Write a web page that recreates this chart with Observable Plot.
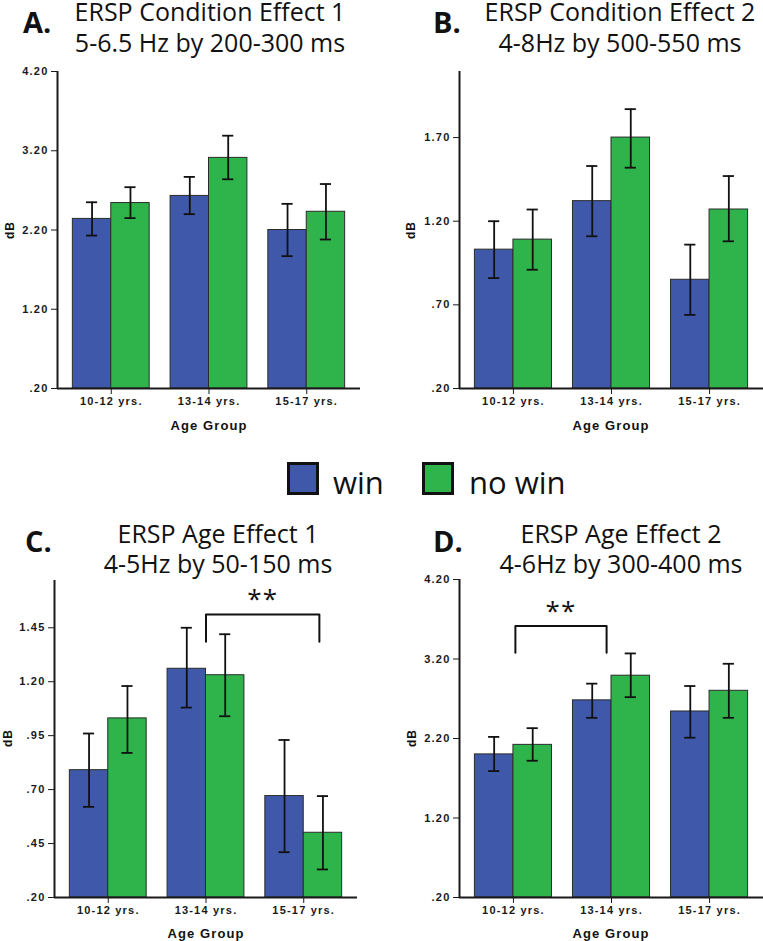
<!DOCTYPE html>
<html>
<head>
<meta charset="utf-8">
<script src="https://cdn.jsdelivr.net/npm/d3@7"></script>
<script src="https://cdn.jsdelivr.net/npm/@observablehq/plot@0.6"></script>
<style>
  html, body { margin: 0; padding: 0; background: #fff; }
  #page { position: relative; width: 763px; height: 941px; overflow: hidden; background: #fff; }
  .abs { position: absolute; }
  .title { font-family: "Open Sans", sans-serif; font-size: 25px; line-height: 22px; color: #111; white-space: nowrap; transform: translateX(-50%); }
  .letter { font-family: "Open Sans", sans-serif; font-weight: bold; font-size: 29px; line-height: 29px; color: #111; }
  .ylab { font-family: "Liberation Sans", Arial, sans-serif; font-weight: bold; font-size: 12px; letter-spacing: 1px; color: #111; transform: translate(-50%, -50%) rotate(-90deg); white-space: nowrap; }
  .xlab { font-family: "Liberation Sans", Arial, sans-serif; font-weight: bold; font-size: 13px; letter-spacing: 1.1px; color: #111; transform: translate(-50%, -50%); white-space: nowrap; }
  .legtext { font-family: "Open Sans", sans-serif; font-size: 31px; line-height: 30px; color: #111; white-space: nowrap; }
  .swatch { box-sizing: border-box; width: 32px; height: 33px; border: 3px solid #111; }
</style>
</head>
<body>
<div id="page"></div>
<script>
// ---------- data ----------
const groups = ["10-12 yrs.", "13-14 yrs.", "15-17 yrs."];
const conditions = ["win", "no win"];
const conditionColors = ["#3f58a9", "#2eb44b"];

// Panel A: ERSP Condition Effect 1
const aWin = [2.34, 2.63, 2.20];
const aWinLo = [2.13, 2.40, 1.87];
const aWinHi = [2.55, 2.87, 2.53];
const aNoWin = [2.54, 3.11, 2.43];
const aNoWinLo = [2.35, 2.84, 2.08];
const aNoWinHi = [2.74, 3.39, 2.78];
const aTicks = [0.2, 1.2, 2.2, 3.2, 4.2];
const aDomain = [0.2, 4.2];

// Panel B: ERSP Condition Effect 2
const bWin = [1.03, 1.32, 0.85];
const bWinLo = [0.86, 1.11, 0.64];
const bWinHi = [1.20, 1.53, 1.06];
const bNoWin = [1.09, 1.70, 1.27];
const bNoWinLo = [0.91, 1.52, 1.08];
const bNoWinHi = [1.27, 1.87, 1.47];
const bTicks = [0.2, 0.7, 1.2, 1.7];
const bDomain = [0.2, 2.095];

// Panel C: ERSP Age Effect 1
const cWin = [0.79, 1.26, 0.67];
const cWinLo = [0.62, 1.08, 0.41];
const cWinHi = [0.96, 1.45, 0.93];
const cNoWin = [1.03, 1.23, 0.50];
const cNoWinLo = [0.87, 1.04, 0.33];
const cNoWinHi = [1.18, 1.42, 0.67];
const cTicks = [0.2, 0.45, 0.7, 0.95, 1.2, 1.45];
const cDomain = [0.2, 1.669];
const cBracketX = [1, 2.16];
const cBracketY = [1.385, 1.512];
const cStarY = 1.58;

// Panel D: ERSP Age Effect 2
const dWin = [2.00, 2.68, 2.54];
const dWinLo = [1.79, 2.46, 2.21];
const dWinHi = [2.22, 2.89, 2.86];
const dNoWin = [2.12, 2.99, 2.80];
const dNoWinLo = [1.92, 2.72, 2.46];
const dNoWinHi = [2.33, 3.27, 3.14];
const dTicks = [0.2, 1.2, 2.2, 3.2, 4.2];
const dDomain = [0.2, 4.2];
const dBracketX = [0.02, 0.95];
const dBracketY = [3.28, 3.616];
const dStarY = 3.79;

const starText = "**";

// ---------- drawing ----------
const page = document.getElementById("page");
const half = 0.393;      // width of one bar, in group units
const capHalf = 0.057;   // half width of error-bar caps
const xDomain = [-0.55, 2.55];
const fmt = v => d3.format(".2f")(v).replace(/^0\./, ".");

function add(el, left, top) {
  el.classList.add("abs");
  el.style.left = left + "px";
  el.style.top = top + "px";
  page.appendChild(el);
  return el;
}
function div(cls, html) {
  const d = document.createElement("div");
  d.className = cls;
  d.textContent = html;
  return d;
}

function panel(cfg) {
  const rows = [];
  groups.forEach((g, i) => {
    rows.push({i, cond: conditions[0], mean: cfg.win[i], lo: cfg.winLo[i], hi: cfg.winHi[i], x1: i - half, x2: i, cx: i - half / 2});
    rows.push({i, cond: conditions[1], mean: cfg.noWin[i], lo: cfg.noWinLo[i], hi: cfg.noWinHi[i], x1: i, x2: i + half, cx: i + half / 2});
  });
  const base = cfg.yDomain[0];
  const marks = [
    Plot.rect(rows, {x1: "x1", x2: "x2", y1: () => base, y2: "mean", fill: "cond", stroke: "#2b2b2b", strokeWidth: 1}),
    Plot.ruleX(rows, {x: "cx", y1: "lo", y2: "hi", stroke: "#111", strokeWidth: 1.8}),
    Plot.ruleY(rows, {y: "hi", x1: d => d.cx - capHalf, x2: d => d.cx + capHalf, stroke: "#111", strokeWidth: 1.8}),
    Plot.ruleY(rows, {y: "lo", x1: d => d.cx - capHalf, x2: d => d.cx + capHalf, stroke: "#111", strokeWidth: 1.8}),
    Plot.ruleX([xDomain[0]], {y1: () => cfg.yDomain[0], y2: () => cfg.yDomain[1], stroke: "#1a1a1a", strokeWidth: 2}),
    Plot.ruleY([cfg.yDomain[0]], {x1: () => xDomain[0], x2: () => xDomain[1], stroke: "#1a1a1a", strokeWidth: 2})
  ];
  if (cfg.bracketX) {
    const bx = cfg.bracketX, by = cfg.bracketY;
    const pts = [{x: bx[0], y: by[0]}, {x: bx[0], y: by[1]}, {x: bx[1], y: by[1]}, {x: bx[1], y: by[0]}];
    marks.push(Plot.line(pts, {x: "x", y: "y", stroke: "#111", strokeWidth: 2}));
    marks.push(Plot.text([starText], {x: () => (bx[0] + bx[1]) / 2, y: () => cfg.starY, text: d => d, fontSize: 26, fontFamily: "Open Sans", fontWeight: "normal", fill: "#111"}));
  }
  const chart = Plot.plot({
    width: cfg.width,
    height: cfg.height,
    marginLeft: cfg.marginLeft,
    marginRight: cfg.marginRight,
    marginTop: cfg.marginTop,
    marginBottom: cfg.marginBottom,
    style: {background: "transparent", color: "#1a1a1a", fontFamily: "Liberation Sans, Arial, sans-serif", fontWeight: "bold", fontSize: "11px", letterSpacing: "1.2px", overflow: "visible"},
    x: {domain: xDomain, ticks: [0, 1, 2], tickFormat: i => groups[i], tickSize: 6, tickPadding: 3, label: null},
    y: {domain: cfg.yDomain, ticks: cfg.yTicks, tickFormat: fmt, tickSize: 6, tickPadding: 3, label: null},
    color: {domain: conditions, range: conditionColors},
    marks
  });
  add(chart, cfg.left, cfg.top);
}

panel({win: aWin, winLo: aWinLo, winHi: aWinHi, noWin: aNoWin, noWinLo: aNoWinLo, noWinHi: aNoWinHi,
  yDomain: aDomain, yTicks: aTicks, left: 0, top: 51, width: 380, height: 389, marginLeft: 57, marginRight: 20, marginTop: 20, marginBottom: 52});
panel({win: bWin, winLo: bWinLo, winHi: bWinHi, noWin: bNoWin, noWinLo: bNoWinLo, noWinHi: bNoWinHi,
  yDomain: bDomain, yTicks: bTicks, left: 380, top: 51, width: 383, height: 389, marginLeft: 79, marginRight: 0, marginTop: 20, marginBottom: 52});
panel({win: cWin, winLo: cWinLo, winHi: cWinHi, noWin: cNoWin, noWinLo: cNoWinLo, noWinHi: cNoWinHi,
  yDomain: cDomain, yTicks: cTicks, left: 0, top: 561, width: 380, height: 380, marginLeft: 54, marginRight: 23, marginTop: 19, marginBottom: 44,
  bracketX: cBracketX, bracketY: cBracketY, starY: cStarY});
panel({win: dWin, winLo: dWinLo, winHi: dWinHi, noWin: dNoWin, noWinLo: dNoWinLo, noWinHi: dNoWinHi,
  yDomain: dDomain, yTicks: dTicks, left: 380, top: 561, width: 383, height: 380, marginLeft: 79, marginRight: 0, marginTop: 18, marginBottom: 44,
  bracketX: dBracketX, bracketY: dBracketY, starY: dStarY});

// titles (one line per element, centred on centerX)
function title(lines, centerX, tops) {
  lines.forEach((line, k) => add(div("title", line), centerX, tops[k]));
}
title(["ERSP Condition Effect 1", "5-6.5 Hz by 200-300 ms"], 210, [0, 31]);
title(["ERSP Condition Effect 2", "4-8Hz by 500-550 ms"], 620, [0, 31]);
title(["ERSP Age Effect 1", "4-5Hz by 50-150 ms"], 218, [522, 552]);
title(["ERSP Age Effect 2", "4-6Hz by 300-400 ms"], 621, [522, 552]);

add(div("letter", "A."), 23, 7);
add(div("letter", "B."), 433, 7);
add(div("letter", "C."), 25, 526);
add(div("letter", "D."), 433, 526);

// axis titles
add(div("ylab", "dB"), 10, 230);
add(div("ylab", "dB"), 411, 230);
add(div("ylab", "dB"), 8, 738);
add(div("ylab", "dB"), 412, 738);
add(div("xlab", "Age Group"), 209, 425);
add(div("xlab", "Age Group"), 611, 425);
add(div("xlab", "Age Group"), 206, 933);
add(div("xlab", "Age Group"), 611, 933);

// legend
const sw1 = add(div("swatch", ""), 287, 462); sw1.style.background = conditionColors[0];
add(div("legtext", conditions[0]), 333, 467);
const sw2 = add(div("swatch", ""), 422, 462); sw2.style.background = conditionColors[1];
add(div("legtext", conditions[1]), 469, 467);
</script>
</body>
</html>
